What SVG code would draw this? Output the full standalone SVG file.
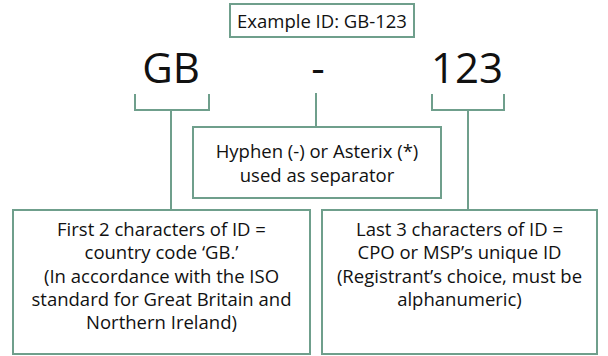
<svg xmlns="http://www.w3.org/2000/svg" width="608" height="356" viewBox="0 0 608 356">
<style>
.box{fill:#fff;stroke:#6f9f8c;stroke-width:2}
.ln{fill:none;stroke:#6f9f8c;stroke-width:2}
.t{font-family:"Open Sans","Noto Sans",sans-serif;font-size:18.5px;fill:#111;text-anchor:middle}
.big{font-family:"Open Sans","Noto Sans",sans-serif;font-size:42px;fill:#111;text-anchor:middle}
</style>
<rect width="608" height="356" fill="#fff"/>
<g id="connectors">
<path class="ln" d="M135,94 V110 H209 V94"/>
<path class="ln" d="M432,94 V110 H504 V94"/>
<path class="ln" d="M171,110 V210"/>
<path class="ln" d="M468,110 V210"/>
<path class="ln" d="M316,93 V127"/>
</g>
<g id="title">
<rect class="box" x="230" y="4" width="184" height="33"/>
<text class="t" x="322" y="28">Example ID: GB-123</text>
</g>
<g id="gb"><text class="big" x="171" y="83">GB</text></g>
<g id="hyphen"><text class="big" x="318" y="83">-</text></g>
<g id="num"><text class="big" x="467" y="83">123</text></g>
<g id="separator">
<rect class="box" x="193" y="127" width="248" height="71"/>
<text class="t" x="317" y="158">Hyphen (-) or Asterix (*)</text>
<text class="t" x="317" y="182">used as separator</text>
</g>
<g id="country">
<rect class="box" x="13" y="210" width="297" height="144"/>
<text class="t" x="161.5" y="236">First 2 characters of ID =</text>
<text class="t" x="161.5" y="259">country code ‘GB.’</text>
<text class="t" x="161.5" y="283">(In accordance with the ISO</text>
<text class="t" x="161.5" y="306">standard for Great Britain and</text>
<text class="t" x="161.5" y="329">Northern Ireland)</text>
</g>
<g id="unique">
<rect class="box" x="322" y="210" width="275" height="144"/>
<text class="t" x="459.5" y="236">Last 3 characters of ID =</text>
<text class="t" x="459.5" y="259">CPO or MSP’s unique ID</text>
<text class="t" x="459.5" y="283">(Registrant’s choice, must be</text>
<text class="t" x="459.5" y="306">alphanumeric)</text>
</g>
</svg>
